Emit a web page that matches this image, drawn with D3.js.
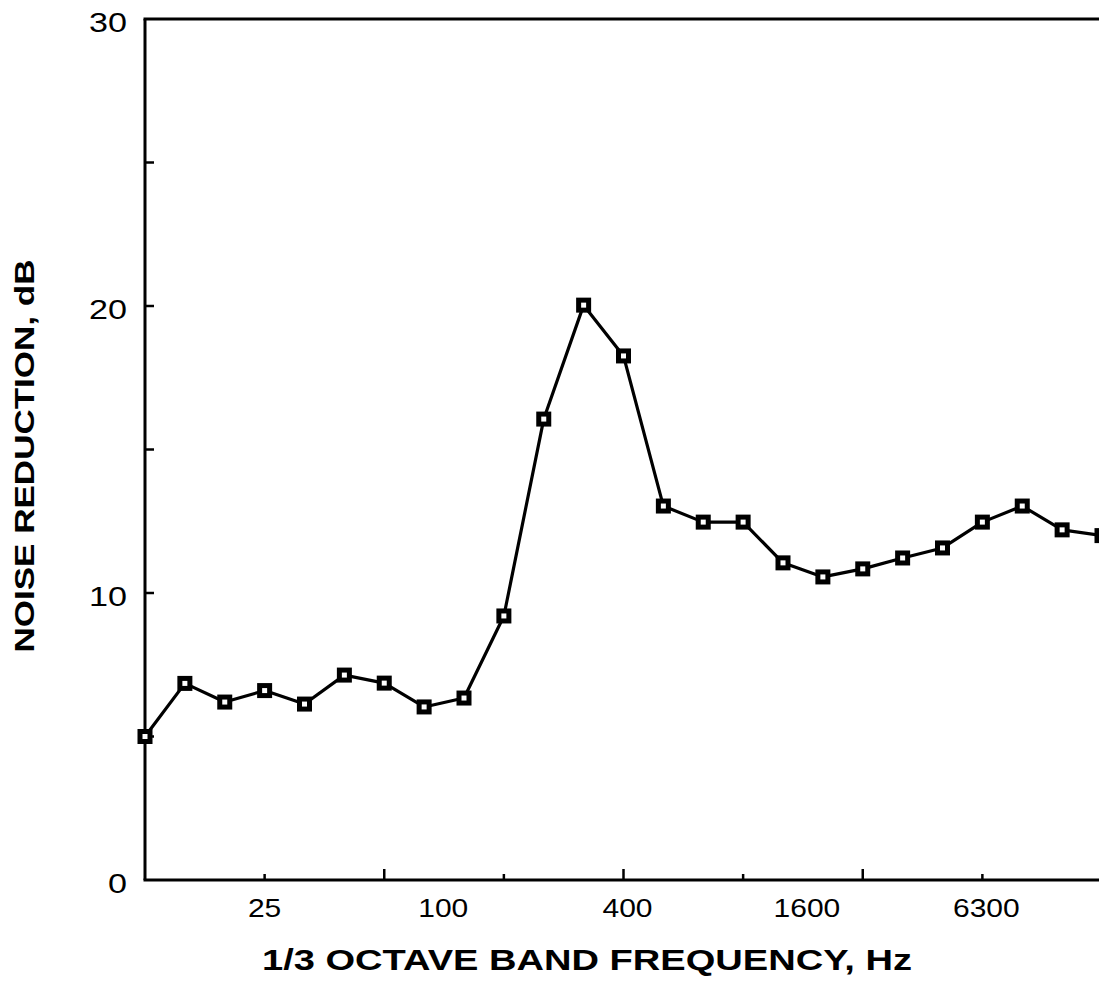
<!DOCTYPE html>
<html>
<head>
<meta charset="UTF-8" />
<title>Noise reduction</title>
<script src="https://d3js.org/d3.v7.min.js"></script>
<style>
  body { margin: 0; background: #fff; }
  text { font-family: "Liberation Sans", Arial, sans-serif; fill: #000; }
</style>
</head>
<body>
<svg id="chart"></svg>
<script>
// one point per 1/3 octave band (band index 0..24)
var bands = d3.range(0, 25)
var noiseReduction = [5.0, 6.85, 6.2, 6.6, 6.13, 7.14, 6.86, 6.03, 6.34, 9.2,
  16.06, 20.03, 18.26, 13.03, 12.47, 12.47, 11.05, 10.56, 10.84, 11.22,
  11.57, 12.47, 13.03, 12.2, 12.0]

// tick labels sit where the scanned original put them (band positions)
var xLabelPos = [3, 7.48, 12.1, 16.6, 21.1]
var xLabels = ["25", "100", "400", "1600", "6300"]
var xTicks = [3, 6, 9, 12, 15, 18, 21]
var yTicks = [0, 5, 10, 15, 20, 25, 30]
var yLabels = [0, 10, 20, 30]

var W = 1099, H = 983
var svg = d3.select("#chart").attr("width", W).attr("height", H)

var x = d3.scaleLinear().domain([0, 24]).range([145, 1102])
var y = d3.scaleLinear().domain([0, 30]).range([880, 19])

// frame: left, bottom, top
svg.append("line").attr("x1", x(0)).attr("x2", x(0)).attr("y1", y(30)).attr("y2", y(0))
  .attr("stroke", "#000").attr("stroke-width", 3)
svg.append("line").attr("x1", x(0) - 1.5).attr("x2", W).attr("y1", y(0)).attr("y2", y(0))
  .attr("stroke", "#000").attr("stroke-width", 3)
svg.append("line").attr("x1", x(0) - 1.5).attr("x2", W).attr("y1", y(30)).attr("y2", y(30))
  .attr("stroke", "#000").attr("stroke-width", 3)

// y ticks pointing inward
svg.selectAll(".ytick").data(yTicks.slice(1, -1)).enter().append("line")
  .attr("x1", x(0)).attr("x2", x(0) + 9)
  .attr("y1", d => y(d)).attr("y2", d => y(d))
  .attr("stroke", "#000").attr("stroke-width", 2.5)

// the scan is stretched sideways, so glyphs get a horizontal scale
svg.selectAll(".ylab").data(yLabels).enter().append("text")
  .attr("transform", d => "translate(127," + (y(d) + 13) + ") scale(1.22,1)")
  .attr("text-anchor", "end").attr("font-size", 28)
  .text(d => d)

// x ticks, alternating short and long
svg.selectAll(".xtick").data(xTicks).enter().append("line")
  .attr("x1", d => x(d)).attr("x2", d => x(d))
  .attr("y1", y(0)).attr("y2", (d, i) => y(0) - (i % 2 ? 11 : 6))
  .attr("stroke", "#000").attr("stroke-width", 2.5)

svg.selectAll(".xlab").data(xLabels).enter().append("text")
  .attr("transform", (d, i) => "translate(" + x(xLabelPos[i]) + ",917) scale(1.2,1)")
  .attr("text-anchor", "middle").attr("font-size", 25)
  .text(d => d)

// axis titles
svg.append("text").attr("x", 587).attr("y", 970)
  .attr("text-anchor", "middle").attr("font-size", 29).attr("font-weight", "bold")
  .attr("textLength", 650).attr("lengthAdjust", "spacingAndGlyphs")
  .text("1/3 OCTAVE BAND FREQUENCY, Hz")

svg.append("text").attr("transform", "translate(34,456) rotate(-90)")
  .attr("text-anchor", "middle").attr("font-size", 28).attr("font-weight", "bold")
  .attr("textLength", 393).attr("lengthAdjust", "spacingAndGlyphs")
  .text("NOISE REDUCTION, dB")

// data line
var line = d3.line().x((d, i) => x(bands[i])).y(d => y(d))
svg.append("path").datum(noiseReduction).attr("d", line)
  .attr("fill", "none").attr("stroke", "#000").attr("stroke-width", 3.2)
  .attr("stroke-linejoin", "round")

// square markers
var m = svg.selectAll(".mk").data(noiseReduction).enter().append("g")
  .attr("transform", (d, i) => "translate(" + x(bands[i]) + "," + y(d) + ")")
m.append("rect").attr("x", -7.5).attr("y", -7.5).attr("width", 15).attr("height", 15).attr("fill", "#000")
m.append("rect").attr("x", -2.5).attr("y", -2.5).attr("width", 5).attr("height", 5).attr("fill", "#fff")
</script>
</body>
</html>
